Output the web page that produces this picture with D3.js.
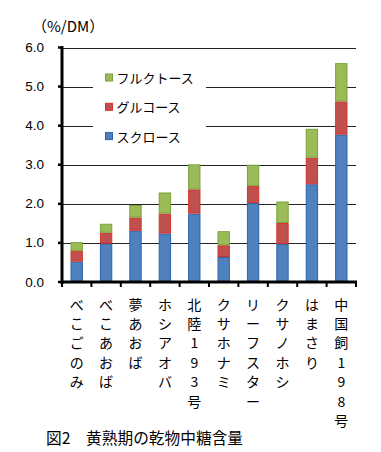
<!DOCTYPE html>
<html><head><meta charset="utf-8">
<script src="https://cdn.jsdelivr.net/npm/d3@7/dist/d3.min.js"></script>
<style>
html,body{margin:0;padding:0;background:#fff;}
svg{display:block;}
</style></head>
<body>
<script>
const categories = ["べこごのみ","べこあおば","夢あおば","ホシアオバ","北陸193号","クサホナミ","リーフスター","クサノホシ","はまさり","中国飼198号"];
const sucrose  = [0.52, 0.98, 1.31, 1.24, 1.75, 0.64, 2.02, 0.97, 2.50, 3.77];
const glucose  = [0.27, 0.28, 0.34, 0.51, 0.62, 0.30, 0.44, 0.54, 0.68, 0.85];
const fructose = [0.23, 0.23, 0.32, 0.54, 0.64, 0.36, 0.54, 0.55, 0.74, 0.98];
const seriesNames = ["スクロース","グルコース","フルクトース"];
const yTicks = [0,1,2,3,4,5,6];
const unitLabel = "（%/DM）";
const caption = "図2　黄熟期の乾物中糖含量";

const W = 381, H = 452;
const fills = ["#4f81bd","#c0504d","#9bbb59"];
const strokes = ["#2a62b0","#d6322c","#77a23a"];
const jp = "'Noto Sans CJK JP', sans-serif";
const num = "'Liberation Sans', Arial, sans-serif";

const svg = d3.select("body").append("svg").attr("width", W).attr("height", H);

const x = d3.scaleBand().domain(categories).range([62, 356]).paddingInner(0.58).paddingOuter(0.29);
const y = d3.scaleLinear().domain([0, 6]).range([282, 47.5]);

// gridlines
svg.append("g").selectAll("line").data(yTicks.filter(d => d > 0)).join("line")
  .attr("x1", 62).attr("x2", 356)
  .attr("y1", d => Math.round(y(d)) + 0.5).attr("y2", d => Math.round(y(d)) + 0.5)
  .attr("stroke", "#222").attr("stroke-width", 1);

// bars
const table = categories.map((c, i) => ({cat: c, s: sucrose[i], g: glucose[i], f: fructose[i]}));
const stack = d3.stack().keys(["s","g","f"])(table);
svg.append("g").selectAll("g").data(stack).join("g")
  .attr("fill", (d, i) => fills[i]).attr("stroke", (d, i) => strokes[i]).attr("stroke-width", 1)
  .selectAll("rect").data(d => d).join("rect")
  .attr("x", d => x(d.data.cat) + 0.5)
  .attr("width", x.bandwidth() - 1)
  .attr("y", d => y(d[1]) + 0.5)
  .attr("height", d => Math.max(0, y(d[0]) - y(d[1]) - 1));

// legend
const lg = svg.append("g");
lg.append("rect").attr("x", 93).attr("y", 56).attr("width", 113).attr("height", 98).attr("fill", "#fff");
const legendOrder = [2, 1, 0];
legendOrder.forEach((si, k) => {
  const cy = 77.5 + k * 29.3;
  lg.append("rect").attr("x", 105.5).attr("y", cy - 3.5).attr("width", 7).attr("height", 7)
    .attr("fill", fills[si]).attr("stroke", strokes[si]).attr("stroke-width", 1);
  lg.append("text").attr("x", 116.5).attr("y", cy).attr("dominant-baseline", "central")
    .attr("font-family", jp).attr("font-size", 13).attr("fill", "#000").text(seriesNames[si]);
});

// y axis
svg.append("line").attr("x1", 62).attr("x2", 62).attr("y1", 46).attr("y2", 284)
  .attr("stroke", "#000").attr("stroke-width", 3);
svg.append("g").selectAll("line").data(yTicks).join("line")
  .attr("x1", 58).attr("x2", 62).attr("y1", d => y(d)).attr("y2", d => y(d))
  .attr("stroke", "#000").attr("stroke-width", 2.5);
svg.append("g").selectAll("text").data(yTicks).join("text")
  .attr("x", 44).attr("y", d => y(d)).attr("text-anchor", "end").attr("dominant-baseline", "central")
  .attr("font-family", num).attr("font-size", 13.5).attr("fill", "#000").text(d => d.toFixed(1));

// x axis
svg.append("line").attr("x1", 61).attr("x2", 357).attr("y1", 282).attr("y2", 282)
  .attr("stroke", "#000").attr("stroke-width", 3);
const bounds = d3.range(categories.length + 1).map(i => 62 + i * x.step());
svg.append("g").selectAll("line").data(bounds).join("line")
  .attr("x1", d => d).attr("x2", d => d).attr("y1", 282).attr("y2", 287)
  .attr("stroke", "#000").attr("stroke-width", 2);

// vertical category labels
const lab = svg.append("g").attr("font-family", jp).attr("font-size", 14).attr("fill", "#000").attr("text-anchor", "middle");
categories.forEach(c => {
  const cx = x(c) + x.bandwidth() / 2;
  Array.from(c).forEach((ch, j) => {
    lab.append("text").attr("x", cx).attr("y", 303.5 + j * 19.4).attr("dominant-baseline", "central").text(ch);
  });
});

// unit label
svg.append("text").attr("x", 32).attr("y", 25).attr("dominant-baseline", "central")
  .attr("font-family", jp).attr("font-size", 15).attr("fill", "#000").text(unitLabel);

// caption
svg.append("text").attr("x", 46).attr("y", 437).attr("dominant-baseline", "central")
  .attr("font-family", jp).attr("font-size", 15.7).attr("fill", "#000").text(caption);
</script>
</body></html>
